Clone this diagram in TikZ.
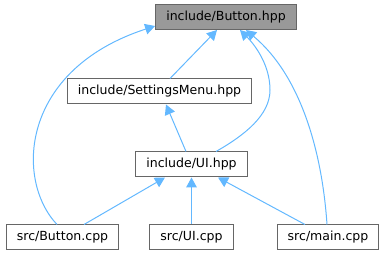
\documentclass[tikz,border=0pt]{standalone}
\usepackage{fontspec}
\setmainfont{DejaVu Sans}
\usetikzlibrary{arrows.meta,calc}
\definecolor{edgeblue}{HTML}{63B8FF}
\definecolor{boxline}{HTML}{666666}
\definecolor{boxfill}{HTML}{999999}
\tikzset{>={Triangle[length=7.5pt,width=8pt]},
	file/.style={draw=boxline, line width=0.75pt, fill=white,
		minimum height=18.75pt, inner xsep=8pt, inner ysep=0pt,
		font=\fontsize{9.4}{11}\selectfont},
	current/.style={file, fill=boxfill},
	dep/.style={<-, draw=edgeblue, line width=0.75pt}}

\begin{document}
\begin{tikzpicture}[x=0.75pt, y=-0.75pt]
	\useasboundingbox (0,0) rectangle (386,256);
	% headers
	\node[current] (btnhpp)   at (226,17)    {include/Button.hpp};
	\node[file]    (settings) at (159.5,91.5) {include/SettingsMenu.hpp};
	\node[file]    (uihpp)    at (191.5,164.5) {include/UI.hpp};
	% sources
	\node[file]    (btncpp)   at (62.5,237.5) {src/Button.cpp};
	\node[file]    (uicpp)    at (191.5,237.5) {src/UI.cpp};
	\node[file]    (maincpp)  at (328,237.5)  {src/main.cpp};
	% who includes Button.hpp
	\draw[dep] ($(btnhpp.south west)+(0,-4)$)
		.. controls (20,70) and (15,180) .. ($(btncpp.north)+(-5.5,0)$);
	\draw[dep] ($(btnhpp.south)+(-9,0)$) -- ($(settings.north)+(10.5,0)$);
	\draw[dep] ($(btnhpp.south)+(14,0)$)
		.. controls (255,45) and (270,65) .. (270,90)
		.. controls (270,115) and (245,135) .. ($(uihpp.north)+(24.5,0)$);
	\draw[dep] ($(btnhpp.south)+(20,0)$)
		.. controls (300,75) and (322,150) .. ($(maincpp.north)+(-1,0)$);
	% who includes SettingsMenu.hpp
	\draw[dep] ($(settings.south)+(6.5,0)$) -- ($(uihpp.north)+(-5.5,0)$);
	% who includes UI.hpp
	\draw[dep] ($(uihpp.south)+(-26.5,0)$) -- ($(btncpp.north)+(21.5,0)$);
	\draw[dep] (uihpp.south) -- (uicpp.north);
	\draw[dep] ($(uihpp.south)+(26.5,0)$) -- ($(maincpp.north)+(-23,0)$);
\end{tikzpicture}
\end{document}
